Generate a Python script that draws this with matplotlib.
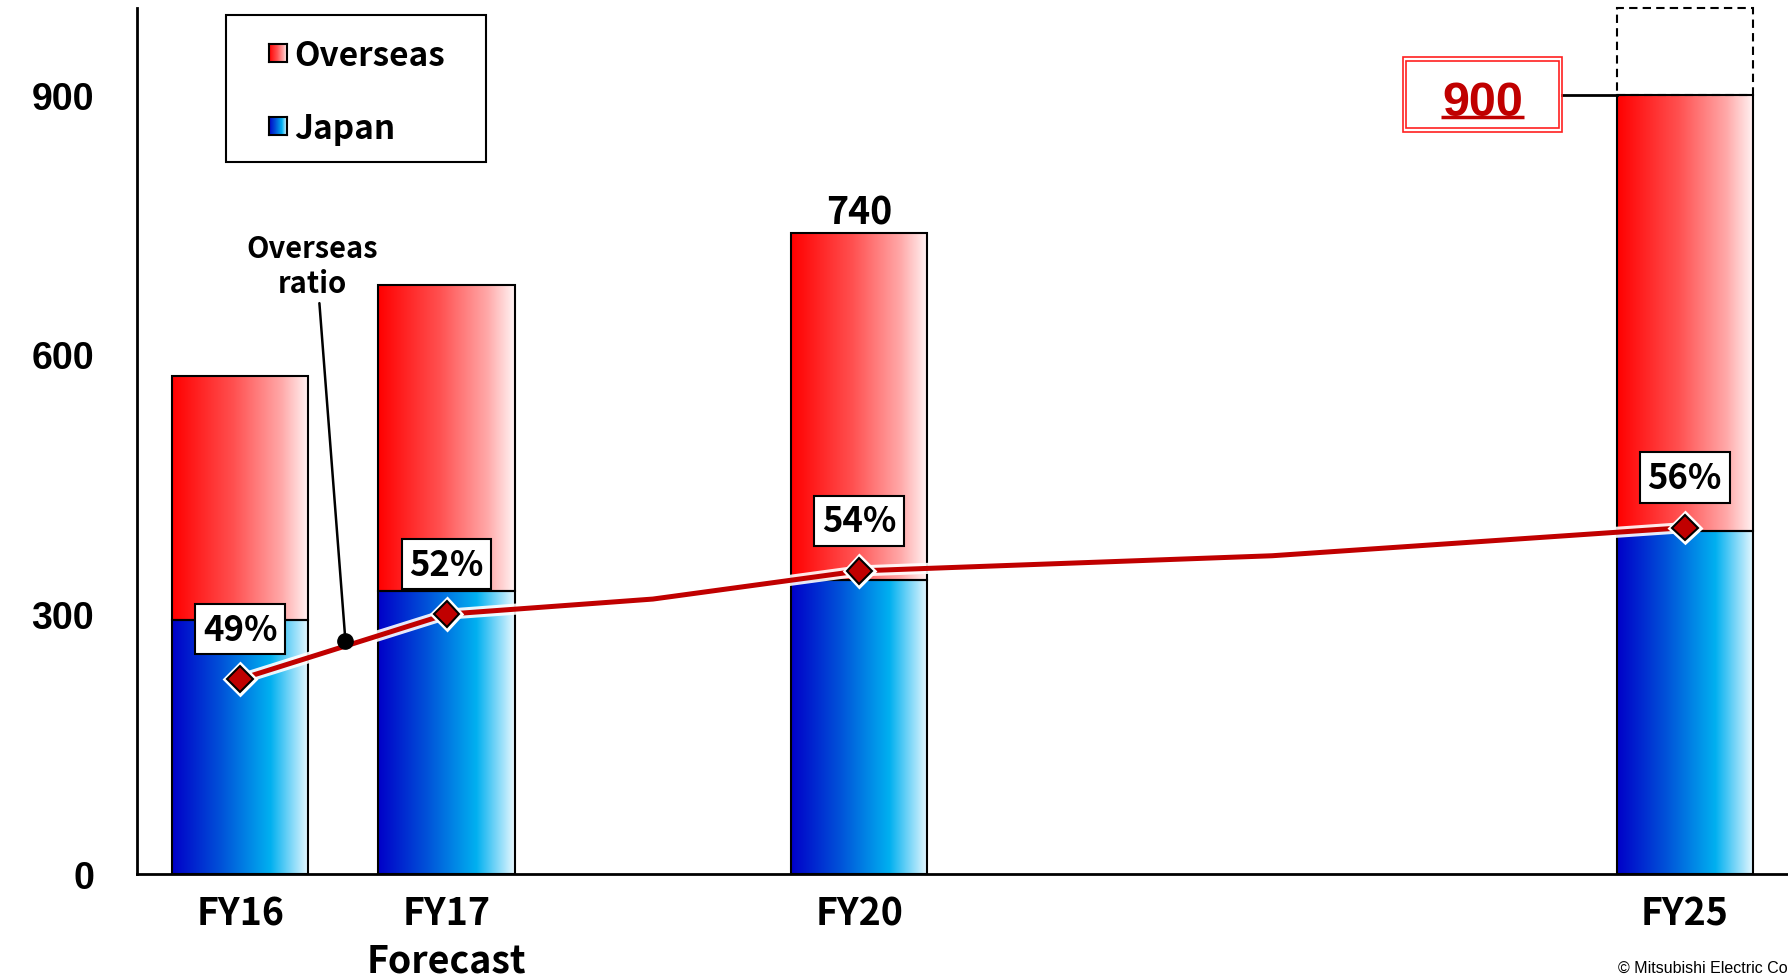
import numpy as np
import matplotlib.pyplot as plt
import matplotlib.patheffects as pe
from matplotlib.colors import LinearSegmentedColormap
from matplotlib.patches import Rectangle

# Sales by region (stacked), with overseas ratio on a hidden second axis
years = ['FY16', 'FY17\nForecast', 'FY20', 'FY25']
year_pos = [0, 1, 3, 7]
japan = [293, 327, 340, 396]
overseas = [282, 353, 400, 504]
total_label_idx = 2          # FY20 total printed above the bar
target_idx = 3               # FY25 target, boxed in red
target_top = 1000            # dashed stretch above the FY25 target

ratio_pos = [0, 1, 2, 3, 5, 7]
ratio = [49, 52, 52.7, 54, 54.7, 56]
ratio_marked = [0, 1, 3, 5]

yticks = [0, 300, 600, 900]

gothic = ['Noto Sans CJK JP', 'DejaVu Sans']
arial = ['Liberation Sans', 'DejaVu Sans']
dark_red = '#c00000'
bar_w = 0.66

red_cmap = LinearSegmentedColormap.from_list(
    'ov', [(0, '#ff0000'), (0.45, '#ff5050'), (0.8, '#ffa8a8'), (1, '#fff4f4')])
blue_cmap = LinearSegmentedColormap.from_list(
    'jp', [(0, '#0000c8'), (0.35, '#0050d8'), (0.72, '#00b0f0'), (1, '#e8f8ff')])
grad = np.linspace(0, 1, 256).reshape(1, -1)


def fill_gradient(ax, patch, cmap):
    x0, y0 = patch.get_x(), patch.get_y()
    w, h = patch.get_width(), patch.get_height()
    im = ax.imshow(grad, cmap=cmap, extent=(x0, x0 + w, y0, y0 + h),
                   aspect='auto', interpolation='bicubic', zorder=2)
    im.set_clip_path(patch)


fig = plt.figure(figsize=(17.88, 9.78), dpi=100)
ax = fig.add_axes([0.0766, 0.1053, 0.9234, 0.8855])

jp_bars = ax.bar(year_pos, japan, bar_w, facecolor='none', edgecolor='black',
                 linewidth=1.5, zorder=3)
ov_bars = ax.bar(year_pos, overseas, bar_w, bottom=japan, facecolor='none',
                 edgecolor='black', linewidth=1.5, zorder=3)
for p in jp_bars:
    fill_gradient(ax, p, blue_cmap)
for p in ov_bars:
    fill_gradient(ax, p, red_cmap)

totals = [j + o for j, o in zip(japan, overseas)]

# dashed extension above the FY25 target
ax.bar(year_pos[target_idx], target_top - totals[target_idx], bar_w,
       bottom=totals[target_idx], fill=False, edgecolor='black', linewidth=1.5,
       linestyle=(0, (4, 2.5)), zorder=3, clip_on=False)

ax.text(year_pos[total_label_idx], totals[total_label_idx] + 2,
        f'{totals[total_label_idx]}', ha='center', va='bottom', fontsize=27,
        fontweight='bold', family=gothic)

# FY25 target label with double red frame and leader line
tx, ty = year_pos[target_idx] - 0.98, totals[target_idx]
ax.text(tx, ty - 24, f'{totals[target_idx]}', ha='center', va='baseline',
        fontsize=35, fontweight='bold', color=dark_red, family=arial, zorder=6)
ax.plot([tx - 0.2, tx + 0.2], [ty - 26, ty - 26], color=dark_red, lw=2.5,
        solid_capstyle='butt', zorder=6)
ax.add_patch(Rectangle((tx - 0.385, ty - 43), 0.77, 86, fill=False,
                       edgecolor='#ff2020', lw=1.2, zorder=6))
ax.add_patch(Rectangle((tx - 0.372, ty - 38.5), 0.744, 77, fill=False,
                       edgecolor='#ff2020', lw=1.2, zorder=6))
ax.plot([tx + 0.385, year_pos[target_idx] - bar_w / 2], [ty, ty],
        color='black', lw=2, zorder=3)

ax.set_xlim(-0.5, 7.5)
ax.set_ylim(0, 1000)
ax.set_yticks(yticks)
ax.set_yticklabels([str(v) for v in yticks], fontsize=27, fontweight='bold',
                   family=arial)
ax.set_xticks(year_pos)
ax.set_xticklabels(years, fontsize=27, fontweight='bold', family=gothic,
                   linespacing=1.25, va='top')
ax.tick_params(axis='y', length=0, pad=31)
ax.tick_params(axis='x', length=0, pad=14)
for side in ['top', 'right']:
    ax.spines[side].set_visible(False)
for side in ['left', 'bottom']:
    ax.spines[side].set_linewidth(2)

# overseas ratio line
ax2 = ax.twinx()
ax2.set_ylim(40, 80)
ax2.set_axis_off()
glow = [pe.Stroke(linewidth=8, foreground='white', alpha=0.9), pe.Normal()]
ax2.plot(ratio_pos, ratio, color=dark_red, lw=3.6, zorder=4, path_effects=glow)
mx = [ratio_pos[i] for i in ratio_marked]
my = [ratio[i] for i in ratio_marked]
ax2.plot(mx, my, 'D', ms=13, mfc=dark_red, mec='black', mew=1.5, zorder=5,
         path_effects=[pe.Stroke(linewidth=5, foreground='white'), pe.Normal()])
for i in ratio_marked:
    ax2.annotate(f'{ratio[i]:.0f}%', (ratio_pos[i], ratio[i]), xytext=(0, 36),
                 textcoords='offset points', ha='center', va='center',
                 fontsize=25, fontweight='bold', family=gothic, zorder=6,
                 bbox=dict(boxstyle='square,pad=0.22', fc='white', ec='black',
                           lw=1.5))

# callout for the ratio line
dot_x = 0.51
dot_y = np.interp(dot_x, ratio_pos, ratio) + 0.25
ax2.plot(dot_x, dot_y, 'o', color='black', ms=11, zorder=6)
ax2.annotate('Overseas\nratio', xy=(dot_x, dot_y), xycoords='data',
             xytext=(0.35, 703), textcoords=ax.transData, ha='center',
             va='center', fontsize=21, fontweight='bold', family=gothic,
             linespacing=1.2,
             arrowprops=dict(arrowstyle='-', color='black', lw=1.8,
                             relpos=(0.55, 0), shrinkA=2, shrinkB=0))

# legend box with gradient swatches
W, H = 1788, 978
fig.add_artist(Rectangle((226 / W, 1 - 163 / H), 260 / W, 147 / H, fill=False,
                         edgecolor='black', lw=1.5, transform=fig.transFigure))
for label, cmap, ytop in [('Overseas', red_cmap, 45), ('Japan', blue_cmap, 118)]:
    sw = fig.add_axes([269 / W, 1 - (ytop + 18) / H, 18 / W, 18 / H])
    sw.imshow(grad, cmap=cmap, aspect='auto')
    sw.set_xticks([])
    sw.set_yticks([])
    for s in sw.spines.values():
        s.set_linewidth(1.5)
    fig.text(294 / W, 1 - (ytop + 12) / H, label, fontsize=24, fontweight='bold',
             family=gothic, va='center', ha='left')

fig.text(1618 / W, 1 - 968 / H, '© Mitsubishi Electric Co', fontsize=11.5,
         family=arial, va='center', ha='left')

fig.savefig('out.png', dpi=100)
